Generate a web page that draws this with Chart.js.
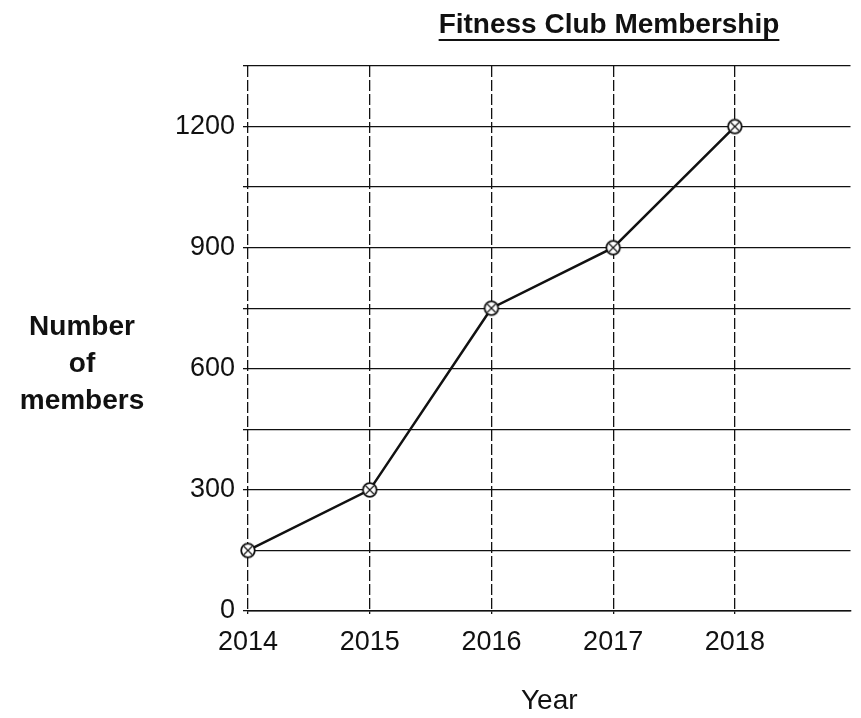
<!DOCTYPE html>
<html>
<head>
<meta charset="utf-8">
<title>Fitness Club Membership</title>
<script src="https://cdn.jsdelivr.net/npm/chart.js@4/dist/chart.umd.min.js"></script>
<style>
  html, body { margin: 0; padding: 0; background: #fff; overflow: hidden; }
  #chartLine { display: block; }
</style>
</head>
<body>
<canvas id="chartLine" width="861" height="718"></canvas>
<script>
// data
const years = [2014, 2015, 2016, 2017, 2018];
const members = [150, 300, 750, 900, 1200];
const yTicks = [0, 300, 600, 900, 1200];
const gridStep = 150;

const titleText = "Fitness Club Membership";
const yTitleLines = ["Number", "of", "members"];
const xTitleText = "Year";

const ink = "#111";
const font = "'Liberation Sans', Arial, sans-serif";

// small hollow circle with a cross in it, used as the point marker
function makeMarker() {
  let c = document.createElement("canvas");
  c.width = 18;
  c.height = 18;
  let g = c.getContext("2d");
  g.fillStyle = "#fff";
  g.strokeStyle = ink;
  g.lineWidth = 1.8;
  g.beginPath();
  g.arc(9, 9, 6.8, 0, Math.PI * 2);
  g.fill();
  g.stroke();
  g.lineWidth = 1.1;
  g.beginPath();
  g.moveTo(5, 5); g.lineTo(13, 13);
  g.moveTo(13, 5); g.lineTo(5, 13);
  g.stroke();
  return c;
}

// underlined title and the horizontal y-axis caption
const labelsPlugin = {
  id: "labels",
  afterDraw(chart) {
    let ctx = chart.ctx;
    let area = chart.chartArea;
    ctx.save();
    ctx.fillStyle = ink;
    ctx.strokeStyle = ink;
    ctx.font = "bold 28px " + font;
    ctx.textAlign = "center";
    ctx.textBaseline = "alphabetic";

    let tx = 609;
    let ty = area.top - 33;
    ctx.fillText(titleText, tx, ty);
    let w = ctx.measureText(titleText).width;
    ctx.lineWidth = 2;
    ctx.beginPath();
    ctx.moveTo(tx - w / 2, ty + 7);
    ctx.lineTo(tx + w / 2, ty + 7);
    ctx.stroke();

    yTitleLines.forEach(function(line, i) {
      ctx.fillText(line, 82, 335 + i * 37);
    });
    ctx.restore();
  }
};

const points = years.map(function(y, i) {
  return { x: y, y: members[i] };
});

const configLine = {
  type: "line",
  data: {
    datasets: [
      {
        label: "Members",
        data: points,
        borderColor: ink,
        borderWidth: 2.5,
        pointStyle: makeMarker(),
        pointRadius: 8,
        tension: 0,
        clip: false,
      },
    ],
  },
  options: {
    responsive: false,
    animation: false,
    layout: { padding: { top: 66, left: 0, right: 0, bottom: 0 } },
    plugins: {
      legend: { display: false },
      tooltip: { enabled: false },
    },
    scales: {
      x: {
        type: "linear",
        min: years[0],
        max: 2018.95,
        afterBuildTicks: function(scale) {
          scale.ticks = years.map(function(v) { return { value: v }; });
        },
        afterFit: function(scale) { scale.height = 107; },
        ticks: {
          color: ink,
          font: { family: font, size: 27 },
          padding: 12,
          maxRotation: 0,
          callback: function(v) { return String(v); },
        },
        // vertical lines come out broken, like a dash-dot rule
        grid: { color: ink, lineWidth: 1.3, tickLength: 3 },
        border: { color: ink, width: 1.5, dash: [11, 3] },
        title: {
          display: true,
          text: xTitleText,
          color: ink,
          font: { family: font, size: 28 },
          padding: { top: 26, bottom: 0 },
        },
      },
      y: {
        min: 0,
        max: 1350,
        afterBuildTicks: function(scale) {
          let t = [];
          for (let v = 0; v <= 1350; v += gridStep) t.push({ value: v });
          scale.ticks = t;
        },
        afterFit: function(scale) { scale.width = 248; },
        ticks: {
          color: ink,
          font: { family: font, size: 27 },
          padding: 8,
          callback: function(v) { return yTicks.includes(v) ? String(v) : ""; },
        },
        grid: { color: ink, lineWidth: 1.3, tickLength: 5 },
        border: { display: false, dash: [] },
      },
    },
  },
  plugins: [labelsPlugin],
};

const chartLine = new Chart(document.getElementById("chartLine"), configLine);
</script>
</body>
</html>
